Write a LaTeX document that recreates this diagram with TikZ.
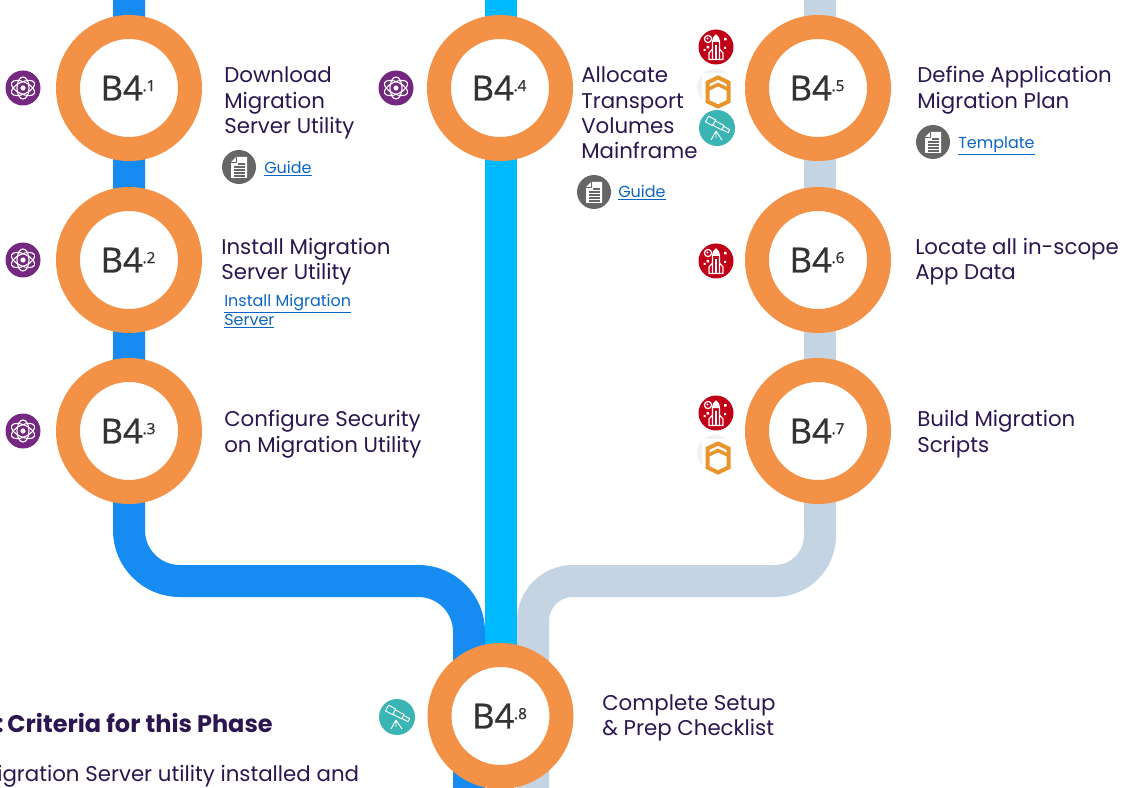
\documentclass[tikz,border=0pt]{standalone}
\usepackage{fontspec}
\setmainfont{Poppins}
\newfontfamily\ringfont[FakeBold=0.9]{Open Sans}
\usetikzlibrary{calc}
\pgfdeclarelayer{pipes}
\pgfsetlayers{pipes,main}
\definecolor{ringorange}{HTML}{F39146}
\definecolor{pipeblue}{HTML}{168BF2}
\definecolor{pipecyan}{HTML}{00BAFF}
\definecolor{pipegrey}{HTML}{C5D4E3}
\definecolor{inkpurple}{HTML}{2B1650}
\definecolor{linkblue}{HTML}{0B66C3}
\definecolor{atompurple}{HTML}{75287F}
\definecolor{docgrey}{HTML}{666666}
\definecolor{rocketred}{HTML}{C00017}
\definecolor{scopeteal}{HTML}{3AB5B3}
\definecolor{hexorange}{HTML}{E8952C}
\definecolor{hexhalo}{HTML}{F1F1F1}
\newcommand{\ringlabel}[1]{\raisebox{-0.8pt}{\ringfont\color[HTML]{333333}\fontsize{26}{26}\selectfont\hspace{-1.5pt}B4\hspace{-0.2pt}\raisebox{7pt}{\fontsize{11.5}{12}\selectfont .#1}}}
\newcommand{\linktext}[1]{\underline{#1}}
\tikzset{
  x=0.75pt,y=-0.75pt,
  ring/.style={circle,draw=ringorange,fill=white,line width=18pt,minimum size=91.5pt,inner sep=0pt},
  pipe/.style={line width=24pt,line cap=butt},
  steplabel/.style={anchor=west,align=left,inner sep=0pt,text=inkpurple,font=\fontsize{16}{19.1}\selectfont},
  linklabel/.style={anchor=west,align=left,inner sep=0pt,text=linkblue,font=\fontsize{12}{14.4}\selectfont},
  atomicon/.pic={
    \fill[atompurple] (0,0) circle (17.5);
    \begin{scope}[draw=white,line width=0.85pt]
      \draw[rotate=25] (0,0) ellipse (12.5 and 6);
      \draw[rotate=-25] (0,0) ellipse (12.5 and 6);
      \draw[rotate=90] (0,0) ellipse (11 and 6);
    \end{scope}
    \fill[white] (0,0) circle (2.6);
  },
  docicon/.pic={
    \fill[docgrey] (0,0) circle (17);
    \fill[white] (-3,-10) -- (8,-10) -- (8,11) -- (-8,11) -- (-8,-5) -- cycle;
    \draw[docgrey,line width=0.6pt] (-3,-10) -- (-3,-5) -- (-8,-5);
    \draw[docgrey,line width=1pt] (-1,-3) -- (6,-3) (-5,0) -- (6,0) (-5,3) -- (6,3) (-5,6) -- (6,6) (-5,9) -- (6,9);
  },
  rocketicon/.pic={
    \fill[rocketred] (0,0) circle (17.5);
    \begin{scope}[draw=white,line width=0.9pt,line join=round]
      \draw (-3.5,12.5) -- (-3.5,-5) .. controls (-3.5,-8) and (-2,-11) .. (0,-12) .. controls (2,-11) and (3.5,-8) .. (3.5,-5) -- (3.5,12.5) -- cycle;
      \draw (0,-2) -- (0,12.5);
      \fill[white] (-3.5,-5) .. controls (-3.5,-8) and (-2,-11) .. (0,-12) .. controls (2,-11) and (3.5,-8) .. (3.5,-5) -- cycle;
      \draw (-3.5,2) -- (-7,6) -- (-7,12.5) -- (-3.5,12.5);
      \draw (3.5,2) -- (7,6) -- (7,12.5) -- (3.5,12.5);
      \draw (-8,-8) circle (3.6);
    \end{scope}
    \fill[white] (-8.5,-8.5) circle (1.2);
    \fill[white] (-9.5,-1) rectangle (-7,1.5) (-12.5,2) rectangle (-10.5,4) (8,-9) rectangle (10.5,-6.5) (8,0) rectangle (10,2);
  },
  hexicon/.pic={
    \fill[hexhalo] (-3,-5) circle (18);
    \fill[white] (-16,-19) rectangle (17,17);
    \draw[hexorange,line width=3pt,line join=miter] (0,-14.5) -- (10.5,-9.5) -- (10.5,9.5) -- (0,14.5) -- (-10.5,9.5) -- (-10.5,-9.5) -- cycle;
    \draw[hexorange,line width=2.6pt,line join=miter] (-10.5,-2.5) -- (0,-7.5) -- (10.5,-2.5);
  },
  scopeicon/.pic={
    \fill[scopeteal] (0,0) circle (18);
    \begin{scope}[draw=white,line width=0.7pt,line join=round]
      \draw[rotate=-28] (-13,-6.5) rectangle (-5,0) (-5,-5.5) rectangle (5,-0.5) (5,-4.5) rectangle (12,-1);
      \draw (-1,3) -- (-6,12) (-1,3) -- (5,12) (-1,3) -- (-1,10);
    \end{scope}
  }
}
\begin{document}
\begin{tikzpicture}
\useasboundingbox (0,0) rectangle (1122,788);

% rings
\node[ring] (b41) at (129,88) {\ringlabel{1}};
\node[ring] (b42) at (129,260) {\ringlabel{2}};
\node[ring] (b43) at (129,431) {\ringlabel{3}};
\node[ring] (b44) at (500,88) {\ringlabel{4}};
\node[ring] (b45) at (818,88) {\ringlabel{5}};
\node[ring] (b46) at (818,260) {\ringlabel{6}};
\node[ring] (b47) at (818,431) {\ringlabel{7}};
\node[ring] (b48) at (500.5,716) {\ringlabel{8}};

% free ends and bends
\coordinate (blueTop) at (129,-2);
\coordinate (blueBendA) at (129,581);
\coordinate (blueBendB) at (469,581);
\coordinate (blueEnd) at (469,790);
\coordinate (cyanTop) at (501,-2);
\coordinate (greyTop) at (820,-2);
\coordinate (greyBendA) at (820,581);
\coordinate (greyBendB) at (533,581);
\coordinate (greyEnd) at (533,790);

\begin{pgfonlayer}{pipes}
  \draw[pipe,pipecyan] (cyanTop) -- (cyanTop |- b44) -- (cyanTop |- b48);
  \draw[pipe,pipeblue,rounded corners=38pt] (blueTop) -- (b41.center) -- (b42.center) -- (b43.center) -- (blueBendA) -- (blueBendB) -- (blueEnd);
  \draw[pipe,pipegrey,rounded corners=34pt] (greyTop) -- (greyTop |- b45) -- (greyTop |- b46) -- (greyTop |- b47) -- (greyBendA) [rounded corners=30pt] -- (greyBendB) -- (greyEnd);
\end{pgfonlayer}

% step texts
\node[steplabel] (t1) at (224,103) {Download\\Migration\\Server Utility};
\node[steplabel] (t2) at (221,261.5) {Install Migration\\Server Utility};
\node[steplabel] (t3) at (224,434) {Configure Security\\on Migration Utility};
\node[steplabel] (t4) at (581,113) {Allocate\\Transport\\Volumes\\Mainframe};
\node[steplabel] (t5) at (917,90) {Define Application\\Migration Plan};
\node[steplabel] (t6) at (915,261.5) {Locate all in-scope\\App Data};
\node[steplabel] (t7) at (917,434) {Build Migration\\Scripts};
\node[steplabel] (t8) at (602,718) {Complete Setup\\\& Prep Checklist};

% links
\node[linklabel] (l1) at (264,169) {\linktext{Guide}};
\node[linklabel] (l2) at (224,311) {\linktext{Install Migration}\\\linktext{Server}};
\node[linklabel] (l4) at (618,193) {\linktext{Guide}};
\node[linklabel] (l5) at (958,146) {\linktext{Template}};

% bottom-left text
\node[anchor=base west,inner sep=0pt,text=inkpurple,font=\fontsize{18}{21}\selectfont\bfseries] (crit) at (-3.5,732) {:\hspace{-2.2pt} Criteria for this Phase};
\node[anchor=base west,inner sep=0pt,text=inkpurple,font=\fontsize{16}{19}\selectfont] (mig) at (-3,781) {igration Server utility installed and};

% icons
\pic (atomA) at (23,88) {atomicon};
\pic (atomB) at (23,260) {atomicon};
\pic (atomC) at (23,431) {atomicon};
\pic (atomD) at (396,88) {atomicon};
\pic (docA) at (239,167) {docicon};
\pic (docB) at (594,192) {docicon};
\pic (docC) at (933,142) {docicon};
\pic (hexA) at (718,92) {hexicon};
\pic (hexB) at (718,458) {hexicon};
\pic (rocketA) at (716,47) {rocketicon};
\pic (rocketB) at (716,261) {rocketicon};
\pic (rocketC) at (716,413) {rocketicon};
\pic (scopeA) at (717,128) {scopeicon};
\pic (scopeB) at (397,717) {scopeicon};
\end{tikzpicture}
\end{document}
